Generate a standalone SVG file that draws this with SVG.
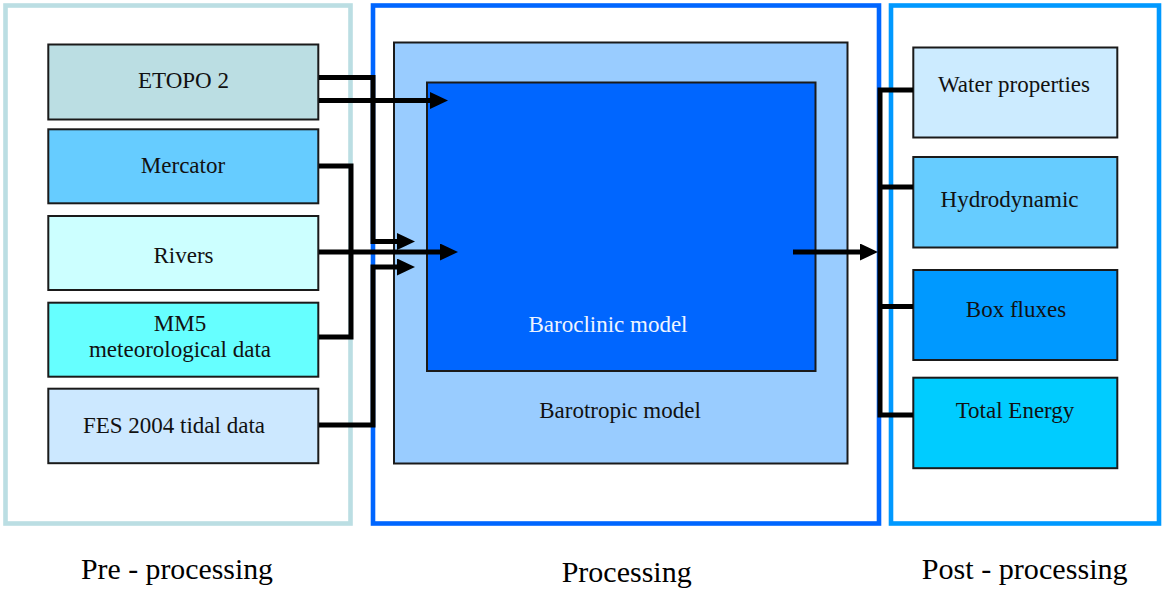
<svg xmlns="http://www.w3.org/2000/svg" width="1162" height="590" viewBox="0 0 1162 590">
<style>
  .frame { fill: #FFFFFF; stroke-width: 4.6; }
  .box { stroke: #1A1A1A; stroke-width: 2; }
  .t { font-family: "Liberation Serif", "Times New Roman", serif; font-size: 23px; fill: #111111; text-anchor: middle; }
  .lbl { font-family: "Liberation Serif", "Times New Roman", serif; font-size: 29px; fill: #000000; text-anchor: middle; }
  .conn { fill: none; stroke: #000000; stroke-width: 5; stroke-linejoin: miter; stroke-linecap: butt; }
</style>
<defs>
  <marker id="arr" markerUnits="userSpaceOnUse" markerWidth="18" markerHeight="17" refX="1" refY="8.5" orient="auto">
    <path d="M0,0 L18,8.5 L0,17 z" fill="#000000"/>
  </marker>
</defs>
<rect width="1162" height="590" fill="#FFFFFF"/>

<g id="frame-pre">
  <rect class="frame" x="5.5" y="5.5" width="345" height="518" stroke="#BBDEE3"/>
  <text class="lbl" x="177" y="578.5" textLength="192" lengthAdjust="spacingAndGlyphs">Pre - processing</text>
</g>
<g id="frame-processing">
  <rect class="frame" x="373" y="5.5" width="506" height="518" stroke="#0066FF"/>
  <text class="lbl" x="626.7" y="582" textLength="130" lengthAdjust="spacingAndGlyphs">Processing</text>
</g>
<g id="frame-post">
  <rect class="frame" x="891" y="5.5" width="268" height="518" stroke="#0099FF"/>
  <text class="lbl" x="1024.7" y="579" textLength="206" lengthAdjust="spacingAndGlyphs">Post - processing</text>
</g>

<g id="etopo">
  <rect class="box" x="48.3" y="44.5" width="270" height="75" fill="#BBDEE3"/>
  <text class="t" x="183.5" y="87.5">ETOPO 2</text>
</g>
<g id="mercator">
  <rect class="box" x="48.3" y="129.3" width="270" height="74" fill="#66CCFF"/>
  <text class="t" x="183" y="173.3">Mercator</text>
</g>
<g id="rivers">
  <rect class="box" x="48.3" y="216" width="270" height="74" fill="#CCFFFF"/>
  <text class="t" x="183.5" y="263.3">Rivers</text>
</g>
<g id="mm5">
  <rect class="box" x="48.3" y="302.7" width="270" height="74" fill="#66FFFF"/>
  <text class="t" x="180" y="330.7">MM5</text>
  <text class="t" x="180" y="357">meteorological data</text>
</g>
<g id="fes">
  <rect class="box" x="48.3" y="388.7" width="270" height="74.5" fill="#CCE8FF"/>
  <text class="t" x="174" y="433.3">FES 2004 tidal data</text>
</g>

<g id="barotropic">
  <rect class="box" x="394" y="42.5" width="453.5" height="421" fill="#99CCFF"/>
  <text class="t" x="620" y="418.3">Barotropic model</text>
</g>
<g id="baroclinic">
  <rect class="box" x="427" y="82.5" width="388.5" height="288.5" fill="#0066FF"/>
  <text class="t" x="608" y="331.7" style="fill:#EEF4FF">Baroclinic model</text>
</g>

<g id="water">
  <rect class="box" x="913.3" y="47.5" width="204" height="90" fill="#CCEBFF"/>
  <text class="t" x="1014" y="91.7">Water properties</text>
</g>
<g id="hydro">
  <rect class="box" x="913.3" y="157" width="204" height="90.5" fill="#66CCFF"/>
  <text class="t" x="1009.5" y="207.3">Hydrodynamic</text>
</g>
<g id="boxfluxes">
  <rect class="box" x="913.3" y="270" width="204" height="90" fill="#0099FF"/>
  <text class="t" x="1016" y="316.7">Box fluxes</text>
</g>
<g id="energy">
  <rect class="box" x="913.3" y="377.7" width="204" height="90.5" fill="#00CCFF"/>
  <text class="t" x="1015" y="418.3">Total Energy</text>
</g>

<g id="connectors">
  <path class="conn" d="M319,77.5 H373 V241.5 H398" marker-end="url(#arr)"/>
  <path class="conn" d="M319,100.5 H431" marker-end="url(#arr)"/>
  <path class="conn" d="M319,252 H441" marker-end="url(#arr)"/>
  <path class="conn" d="M319,425 H373 V267 H398" marker-end="url(#arr)"/>
  <path class="conn" d="M319,166 H351 V337 H319"/>
  <path class="conn" d="M793,252 H861" marker-end="url(#arr)"/>
  <path class="conn" d="M913,90 H880 V415 H913 M880,187 H913 M880,306.5 H913"/>
</g>
</svg>
